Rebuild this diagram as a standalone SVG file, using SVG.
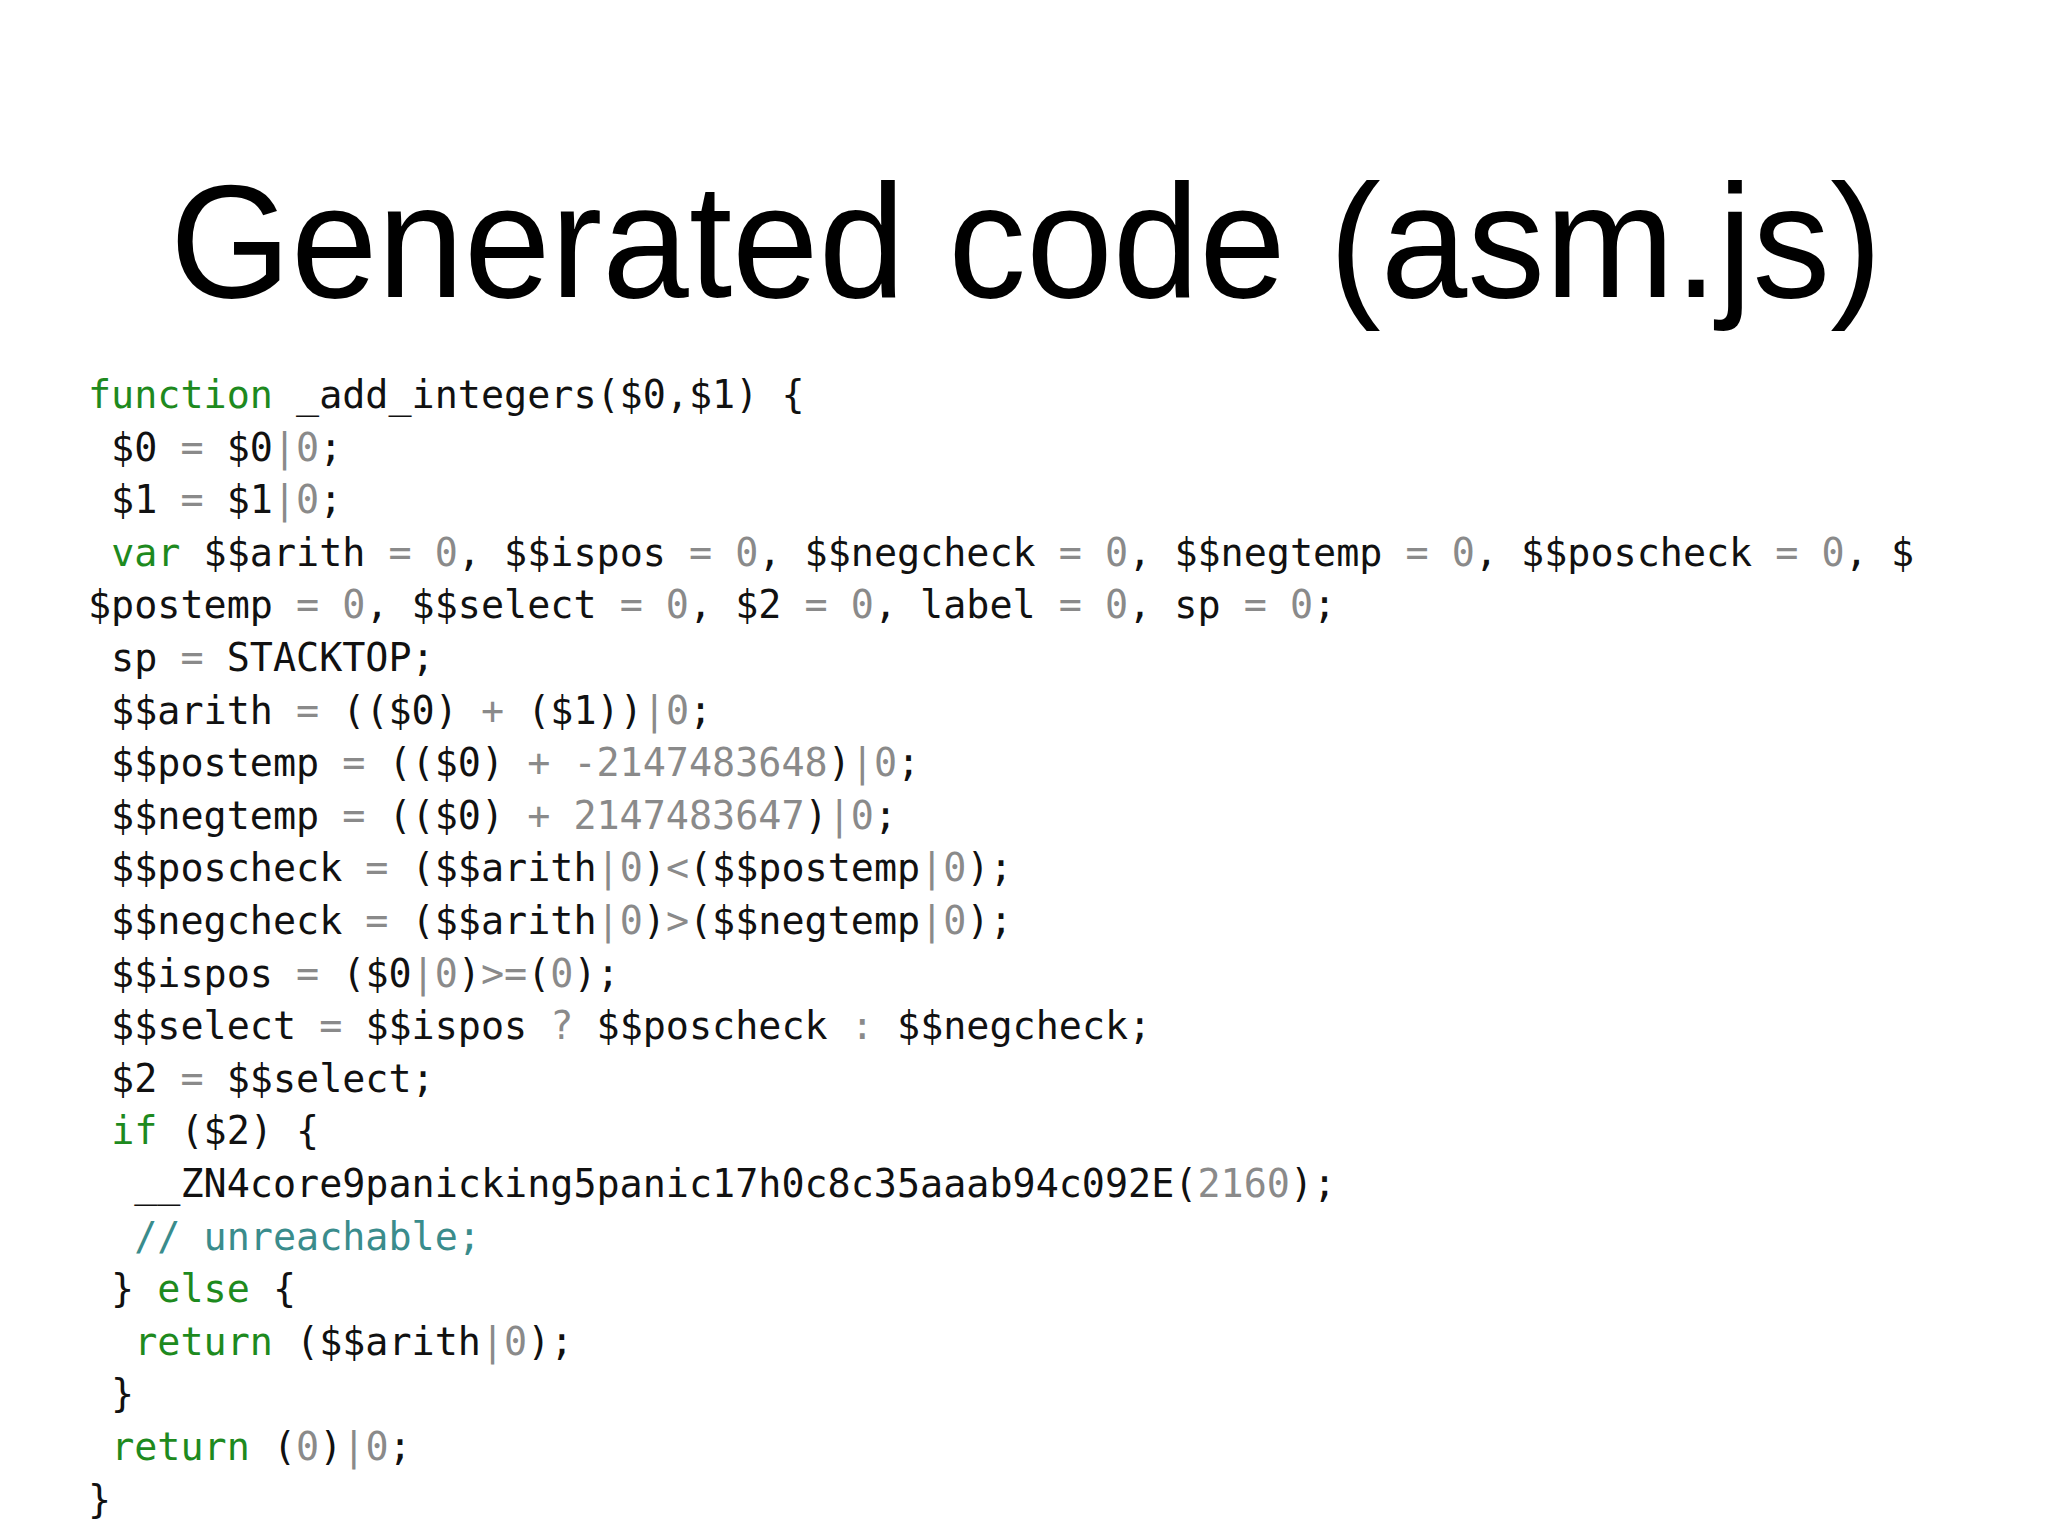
<svg xmlns="http://www.w3.org/2000/svg" width="2048" height="1536" viewBox="0 0 2048 1536">
<style>
.c{font-family:"DejaVu Sans Mono","Liberation Mono",monospace;font-size:38.4px;fill:#111;white-space:pre}
.k{fill:#1e8a1e}.g{fill:#8a8a8a}.m{fill:#3a8c8c}
</style>
<rect width="2048" height="1536" fill="#fff"/>
<text x="170" y="297" font-family="Helvetica,'Liberation Sans',Arial,sans-serif" font-size="162" font-weight="300" fill="#000" textLength="1712" lengthAdjust="spacingAndGlyphs">Generated code (asm.js)</text>
<g id="code" class="c">
<text xml:space="preserve" x="88" y="408"><tspan class="k">function</tspan> _add_integers($0,$1) {</text>
<text xml:space="preserve" x="88" y="461"> $0 <tspan class="g">=</tspan> $0<tspan class="g">|0</tspan>;</text>
<text xml:space="preserve" x="88" y="513"> $1 <tspan class="g">=</tspan> $1<tspan class="g">|0</tspan>;</text>
<text xml:space="preserve" x="88" y="566"> <tspan class="k">var</tspan> $$arith <tspan class="g">= 0</tspan>, $$ispos <tspan class="g">= 0</tspan>, $$negcheck <tspan class="g">= 0</tspan>, $$negtemp <tspan class="g">= 0</tspan>, $$poscheck <tspan class="g">= 0</tspan>, $</text>
<text xml:space="preserve" x="88" y="618">$postemp <tspan class="g">= 0</tspan>, $$select <tspan class="g">= 0</tspan>, $2 <tspan class="g">= 0</tspan>, label <tspan class="g">= 0</tspan>, sp <tspan class="g">= 0</tspan>;</text>
<text xml:space="preserve" x="88" y="671"> sp <tspan class="g">=</tspan> STACKTOP;</text>
<text xml:space="preserve" x="88" y="724"> $$arith <tspan class="g">=</tspan> (($0) <tspan class="g">+</tspan> ($1))<tspan class="g">|0</tspan>;</text>
<text xml:space="preserve" x="88" y="776"> $$postemp <tspan class="g">=</tspan> (($0) <tspan class="g">+ -2147483648</tspan>)<tspan class="g">|0</tspan>;</text>
<text xml:space="preserve" x="88" y="829"> $$negtemp <tspan class="g">=</tspan> (($0) <tspan class="g">+ 2147483647</tspan>)<tspan class="g">|0</tspan>;</text>
<text xml:space="preserve" x="88" y="881"> $$poscheck <tspan class="g">=</tspan> ($$arith<tspan class="g">|0</tspan>)<tspan class="g">&lt;</tspan>($$postemp<tspan class="g">|0</tspan>);</text>
<text xml:space="preserve" x="88" y="934"> $$negcheck <tspan class="g">=</tspan> ($$arith<tspan class="g">|0</tspan>)<tspan class="g">&gt;</tspan>($$negtemp<tspan class="g">|0</tspan>);</text>
<text xml:space="preserve" x="88" y="987"> $$ispos <tspan class="g">=</tspan> ($0<tspan class="g">|0</tspan>)<tspan class="g">&gt;=</tspan>(<tspan class="g">0</tspan>);</text>
<text xml:space="preserve" x="88" y="1039"> $$select <tspan class="g">=</tspan> $$ispos <tspan class="g">?</tspan> $$poscheck <tspan class="g">:</tspan> $$negcheck;</text>
<text xml:space="preserve" x="88" y="1092"> $2 <tspan class="g">=</tspan> $$select;</text>
<text xml:space="preserve" x="88" y="1144"> <tspan class="k">if</tspan> ($2) {</text>
<text xml:space="preserve" x="88" y="1197">  __ZN4core9panicking5panic17h0c8c35aaab94c092E(<tspan class="g">2160</tspan>);</text>
<text xml:space="preserve" x="88" y="1250">  <tspan class="m">// unreachable;</tspan></text>
<text xml:space="preserve" x="88" y="1302"> } <tspan class="k">else</tspan> {</text>
<text xml:space="preserve" x="88" y="1355">  <tspan class="k">return</tspan> ($$arith<tspan class="g">|0</tspan>);</text>
<text xml:space="preserve" x="88" y="1407"> }</text>
<text xml:space="preserve" x="88" y="1460"> <tspan class="k">return</tspan> (<tspan class="g">0</tspan>)<tspan class="g">|0</tspan>;</text>
<text xml:space="preserve" x="88" y="1513">}</text>
</g>
</svg>
